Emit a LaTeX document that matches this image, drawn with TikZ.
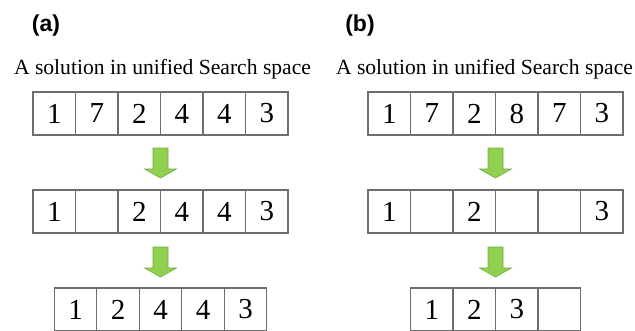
\documentclass[tikz,border=0pt]{standalone}
\usepackage{fontspec}
\setmainfont{Liberation Serif}
\newfontfamily\labelfont{Liberation Sans}
\definecolor{cellline}{RGB}{110,110,110}
\definecolor{arrowfill}{RGB}{146,208,80}
\definecolor{arrowline}{RGB}{115,170,65}
\begin{document}
\begin{tikzpicture}[x=1pt,y=-1pt,
  cell/.style={draw=cellline,line width=1.1pt,minimum width=42.5pt,minimum height=43pt,
    inner sep=0pt,outer sep=0pt,font=\fontsize{29}{29}\selectfont},
  title/.style={font=\fontsize{21.6}{22}\selectfont,inner sep=0pt},
  panel/.style={font=\labelfont\bfseries\fontsize{23}{23}\selectfont,inner sep=0pt},
  arrowstyle/.style={fill=arrowfill,draw=arrowline,line width=0.6pt,line join=miter},
  greenarrow/.pic={\path[arrowstyle] (-7.5,0) -- (7.5,0) -- (7.5,21) -- (16,21) -- (0,30)
     -- (-16,21) -- (-7.5,21) -- cycle;}]
\useasboundingbox (0,0) rectangle (635,330);
% panel labels
\node[panel] (la) at (46,26) {(a)};
\node[panel] (lb) at (360,26) {(b)};
% titles
\node[title] (ta) at (162.5,69) {A solution in unified Search space};
\node[title] (tb) at (484.5,69) {A solution in unified Search space};
% panel (a)
\foreach \v [count=\i] in {1,7,2,4,4,3}
  \node[cell] (a1\i) at ({33+21.25+42.5*(\i-1)},113.5) {\v};
\foreach \v [count=\i] in {1,{},2,4,4,3}
  \node[cell] (a2\i) at ({33+21.25+42.5*(\i-1)},211.5) {\v};
\foreach \v [count=\i] in {1,2,4,4,3}
  \node[cell] (a3\i) at ({54.25+21.25+42.5*(\i-1)},309.5) {\v};
% panel (b)
\foreach \v [count=\i] in {1,7,2,8,7,3}
  \node[cell] (b1\i) at ({368+21.25+42.5*(\i-1)},113.5) {\v};
\foreach \v [count=\i] in {1,{},2,{},{},3}
  \node[cell] (b2\i) at ({368+21.25+42.5*(\i-1)},211.5) {\v};
\foreach \v [count=\i] in {1,2,3,{}}
  \node[cell] (b3\i) at ({410.5+21.25+42.5*(\i-1)},309.5) {\v};
% arrows
\coordinate (ar1) at (160.5,148);
\coordinate (ar2) at (160.5,247);
\coordinate (br1) at (495.5,148);
\coordinate (br2) at (495.5,247);
\pic at (ar1) {greenarrow};
\pic at (ar2) {greenarrow};
\pic at (br1) {greenarrow};
\pic at (br2) {greenarrow};
\end{tikzpicture}
\end{document}
